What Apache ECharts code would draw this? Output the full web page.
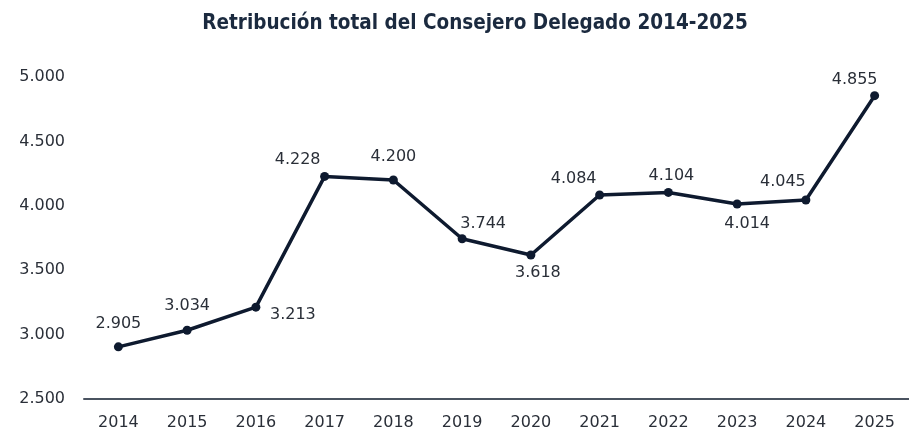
<!DOCTYPE html>
<html>
<head>
<meta charset="utf-8">
<script src="https://cdn.jsdelivr.net/npm/echarts@6/dist/echarts.min.js"></script>
<style>
html,body{margin:0;padding:0;background:#fff;}
#container{width:909px;height:431px;}
</style>
</head>
<body>
<div id="container"></div>
<script>
// datos
var years = ['2014','2015','2016','2017','2018','2019','2020','2021','2022','2023','2024','2025'];
var retribucion = [2905, 3034, 3213, 4228, 4200, 3744, 3618, 4084, 4104, 4014, 4045, 4855];
// desplazamiento de cada etiqueta [x, y]
var labelOffsets = [[0,0],[0,-2],[37,30],[-27,6],[0,-1],[21,8],[7,40],[-26,6],[3,6],[10,42],[-23,4],[-20,7]];

function fmt(v){
    return String(v).replace(/\B(?=(\d{3})+(?!\d))/g, '.');
}

var dom = document.getElementById("container");
var myChart = echarts.init(dom);
var txt = '#2a2f38';
var line = '#0e1a2f';
var font = 'DejaVu Sans';

var points = [];
for(var i=0;i<retribucion.length;i++){
    points.push({
        value: retribucion[i],
        label: {offset: labelOffsets[i]}
    });
}

var option = {
    animation: false,
    title: {
        text: 'Retribución total del Consejero Delegado 2014-2025',
        left: 470,
        textAlign: 'center',
        top: 8,
        textStyle: {
            fontFamily: "'DejaVu Sans Condensed', Roboto",
            fontWeight: 'bold',
            fontSize: 20.5,
            color: '#1b2a3f'
        }
    },
    grid: {
        left: 84,
        right: -12,
        top: 77,
        bottom: 32
    },
    xAxis: {
        type: 'category',
        data: years,
        boundaryGap: true,
        axisLine: {lineStyle: {color: '#4a5360', width: 2}},
        axisTick: {show: false},
        axisLabel: {
            color: txt,
            fontFamily: font,
            fontSize: 16,
            margin: 16
        }
    },
    yAxis: {
        type: 'value',
        min: 2500,
        max: 5000,
        interval: 500,
        splitLine: {show: false},
        axisLine: {show: false},
        axisTick: {show: false},
        axisLabel: {
            color: txt,
            fontFamily: font,
            fontSize: 16,
            margin: 19,
            formatter: function(v){ return fmt(v); }
        }
    },
    series: [{
        type: 'line',
        data: points,
        symbol: 'circle',
        symbolSize: 9,
        lineStyle: {color: line, width: 3.5},
        itemStyle: {color: line},
        label: {
            show: true,
            position: 'top',
            distance: 10,
            color: txt,
            fontFamily: font,
            fontSize: 16,
            formatter: function(p){ return fmt(p.value); }
        }
    }]
};
myChart.setOption(option, true);
</script>
</body>
</html>
